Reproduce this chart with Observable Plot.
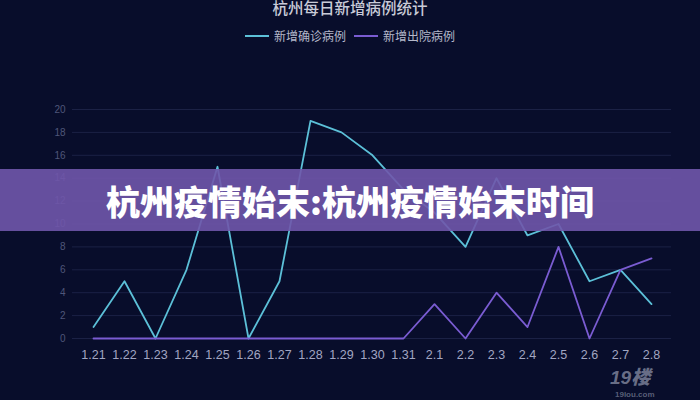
<!DOCTYPE html>
<html>
<head>
<meta charset="utf-8">
<script src="https://cdn.jsdelivr.net/npm/d3@7"></script>
<script src="https://cdn.jsdelivr.net/npm/@observablehq/plot@0.6"></script>
<style>
  html, body { margin: 0; padding: 0; background: #080d2b; }
  #wrap { position: relative; width: 700px; height: 400px; overflow: hidden; background: #080d2b;
          font-family: "Noto Sans CJK SC", "Noto Sans", sans-serif; }
  #title { position: absolute; left: 0; width: 700px; top: 1px; line-height: 16px; text-align: center; color: #c9cbd8;
           font-size: 15.5px; font-weight: 500; font-family: "Liberation Sans", "Noto Sans CJK SC", sans-serif; }
  #legend { position: absolute; top: 27px; left: 0; width: 700px; display: flex; justify-content: center;
            align-items: center; font-size: 12px; color: #b5b8ca; }
  .sw { display: inline-block; width: 24px; height: 2px; margin-right: 5px; }
  .item { display: flex; align-items: center; margin: 0 4px; }
  #banner { position: absolute; left: 0; top: 169px; width: 700px; height: 62px; background: rgba(112, 87, 171, 0.9);
            display: flex; align-items: center; justify-content: center; }
  #banner span { color: #ffffff; font-size: 34px; font-weight: 900; }
  #wm { position: absolute; left: 610px; top: 369px; line-height: 18px; color: rgba(190,195,215,0.55); font-size: 19px; font-weight: 900;
        font-style: italic; font-family: "Liberation Sans", "Noto Sans CJK SC", sans-serif; }
  #wm2 { position: absolute; left: 615px; top: 390px; line-height: 9px; color: rgba(190,195,215,0.45); font-size: 8px; font-weight: 700;
         font-family: "Liberation Sans", sans-serif; }
</style>
</head>
<body>
<div id="wrap">
  <div id="chart"></div>
  <div id="title"></div>
  <div id="legend"></div>
  <div id="banner"><span id="bannerText"></span></div>
  <div id="wm">19楼</div>
  <div id="wm2">19lou.com</div>
</div>
<script>
const dates = ["1.21","1.22","1.23","1.24","1.25","1.26","1.27","1.28","1.29","1.30","1.31","2.1","2.2","2.3","2.4","2.5","2.6","2.7","2.8"];
const confirmed = [1,5,0,6,15,0,5,19,18,16,13,11,8,14,9,10,5,6,3];
const discharged = [0,0,0,0,0,0,0,0,0,0,0,3,0,4,1,8,0,6,7];
const seriesNames = ["新增确诊病例","新增出院病例"];
const seriesColors = ["#5cc0d8","#7a5cd2"];
const yTicks = [0,2,4,6,8,10,12,14,16,18,20];
const chartTitle = "杭州每日新增病例统计";
const bannerText = "杭州疫情始末:杭州疫情始末时间";

const rows = [];
dates.forEach((d, i) => {
  rows.push({date: d, value: confirmed[i], series: seriesNames[0]});
  rows.push({date: d, value: discharged[i], series: seriesNames[1]});
});

const plot = Plot.plot({
  width: 700,
  height: 400,
  marginLeft: 72,
  marginRight: 29,
  marginTop: 109,
  marginBottom: 62,
  style: {background: "transparent", fontFamily: "Liberation Sans, Arial, sans-serif"},
  x: {type: "point", domain: dates, padding: 0.5, label: null},
  y: {domain: [0, 20], label: null},
  color: {domain: seriesNames, range: seriesColors},
  marks: [
    Plot.ruleY(yTicks, {stroke: "#1b2145", strokeWidth: 1}),
    Plot.axisY({ticks: yTicks, tickSize: 0, tickPadding: 7, fontSize: 10, fill: "#4f5679", label: null}),
    Plot.axisX({tickSize: 0, tickPadding: 12, fontSize: 12.5, fill: "#a2a6c2", label: null}),
    Plot.line(rows.filter(r => r.series === seriesNames[0]), {x: "date", y: "value", stroke: "series", strokeWidth: 1.8}),
    Plot.line(rows.filter(r => r.series === seriesNames[1]), {x: "date", y: "value", stroke: "series", strokeWidth: 1.8})
  ]
});
document.getElementById("chart").appendChild(plot);

document.getElementById("title").textContent = chartTitle;
document.getElementById("bannerText").textContent = bannerText;
const legend = document.getElementById("legend");
seriesNames.forEach((n, i) => {
  const it = document.createElement("div");
  it.className = "item";
  it.innerHTML = `<span class="sw" style="background:${seriesColors[i]}"></span><span>${n}</span>`;
  legend.appendChild(it);
});
</script>
</body>
</html>
